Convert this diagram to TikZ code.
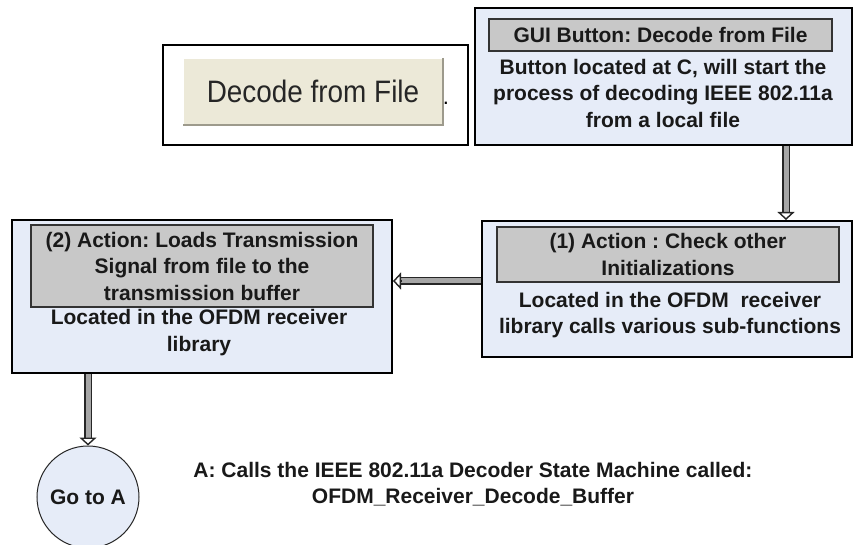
\documentclass[tikz,border=0pt]{standalone}
\usepackage{fontspec}
\setmainfont{Liberation Sans}
\usetikzlibrary{arrows.meta,calc}
\definecolor{boxblue}{HTML}{E6ECF8}
\definecolor{hdrgray}{HTML}{C8C8C8}
\definecolor{btnbeige}{HTML}{ECE9D8}
\definecolor{btnshadow}{HTML}{9D9A8C}
\begin{document}
\frenchspacing
\begin{tikzpicture}[x=1pt,y=-1pt,
 panel/.style={draw=black, line width=2pt, fill=boxblue, inner sep=0pt},
 txt/.style={font=\fontsize{21}{26.5}\selectfont\bfseries\frenchspacing, align=center, inner sep=0pt, text=black!90},
 hdr/.style={txt, draw=black!80, line width=1.2pt, fill=hdrgray},
 shaft/.style={draw=black!85, line width=1.6pt, double=gray!70, double distance=5pt, shorten >=7pt},
 tip/.style={draw=black!85, line width=1.4pt, -{Triangle[open, fill=white, width=17pt, length=8pt]}},
]
\useasboundingbox (0,0) rectangle (854,545);
\fill[white] (0,0) rectangle (854,545);

% screenshot of the button
\node[draw=black, line width=2pt, fill=white, minimum width=305pt, minimum height=100pt, inner sep=0pt] (shot) at (315.5,95) {};
\node[fill=btnbeige, minimum width=260pt, minimum height=67pt, inner sep=0pt, text=black!85] (btn) at (313,91.5) {\fontsize{31}{31}\selectfont\scalebox{0.9}[1]{Decode from File}};
\draw[white, line width=1.5pt] (btn.south west) -- (btn.north west) -- (btn.north east);
\draw[btnshadow, line width=2pt] (btn.north east) -- (btn.south east) -- (btn.south west);
\node[font=\fontsize{22}{22}\selectfont, inner sep=0pt, anchor=south] (dot) at (446,105) {.};

% GUI box
\node[panel, minimum width=377pt, minimum height=137pt] (gui) at (663.5,76.5) {};
\node[hdr, minimum width=343pt, minimum height=32pt] (guih) at (660.5,35) {GUI Button: Decode from File};
\node[txt, anchor=north] (guib) at (663,59) {Button located at C, will start the\\process of decoding IEEE 802.11a\\from a local file};

% (1) box
\node[panel, minimum width=370pt, minimum height=136pt] (act1) at (667,289) {};
\node[hdr, minimum width=342pt, minimum height=55pt] (act1h) at (668,254.5) {(1) Action : Check other\\Initializations};
\node[txt, anchor=north] (act1b) at (670,292) {Located in the OFDM\ \ receiver\\library calls various sub-functions};

% (2) box
\node[panel, minimum width=380pt, minimum height=153pt] (act2) at (202,296.5) {};
\node[hdr, minimum width=342pt, minimum height=82pt] (act2h) at (202,266) {(2) Action: Loads Transmission\\Signal from file to the\\transmission buffer};
\node[txt, anchor=north] (act2b) at (199,309.5) {Located in the OFDM receiver\\library};

% circle
\node[circle, draw=black!85, line width=1pt, fill=boxblue, minimum size=102pt, txt] (goA) at (88,497) {Go to A};

% note
\node[txt, anchor=north] (note) at (473,462) {A: Calls the IEEE 802.11a Decoder State Machine called:\\OFDM\_Receiver\_Decode\_Buffer};

% arrows
\coordinate (ax1) at (786,0);
\coordinate (ay2) at (0,281);
\coordinate (ax3) at (88,0);
\draw[shaft] (gui.south -| ax1) -- (act1.north -| ax1);
\draw[tip] ($(act1.north -| ax1)+(0,-8)$) -- (act1.north -| ax1);
\draw[shaft] (act1.west |- ay2) -- (act2.east |- ay2);
\draw[tip] ($(act2.east |- ay2)+(8,0)$) -- (act2.east |- ay2);
\draw[shaft] (act2.south -| ax3) -- (goA.north -| ax3);
\draw[tip] ($(goA.north -| ax3)+(0,-8)$) -- (goA.north -| ax3);
\end{tikzpicture}
\end{document}
